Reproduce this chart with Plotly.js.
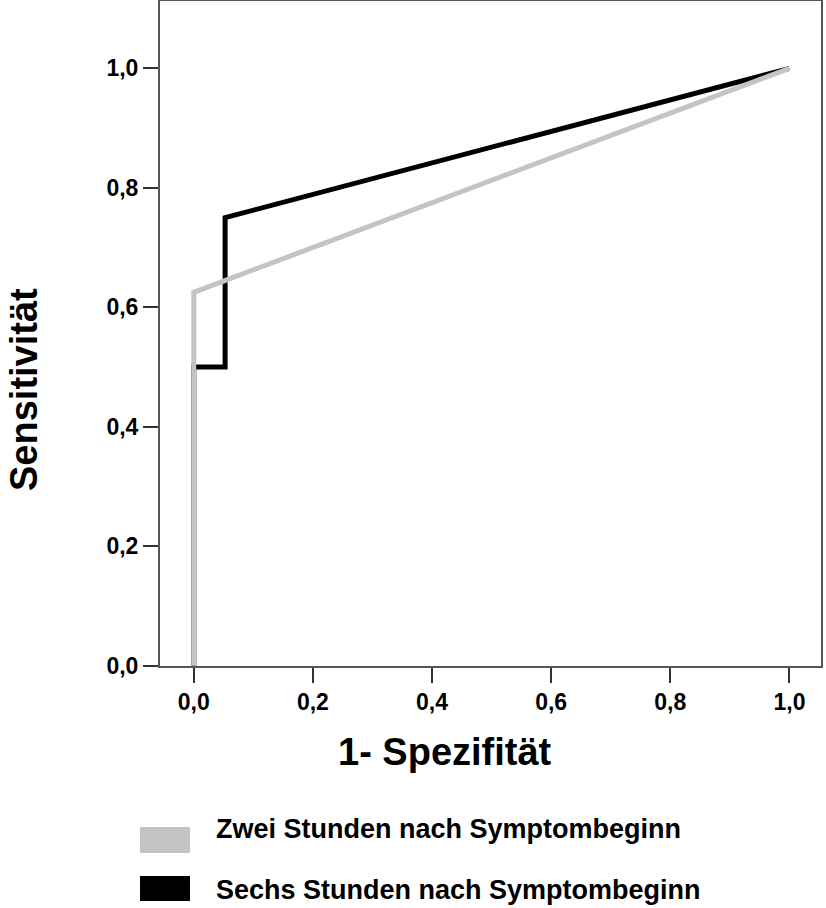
<!DOCTYPE html>
<html>
<head>
<meta charset="utf-8">
<script src="https://cdn.plot.ly/plotly-3.0.1.min.js"></script>
<style>html,body{margin:0;padding:0;background:#fff;}#chart{width:826px;height:908px;}</style>
</head>
<body>
<div id="chart"></div>
<script>
// ROC data
const seriesNames = ["Zwei Stunden nach Symptombeginn", "Sechs Stunden nach Symptombeginn"];
const seriesColors = ["#c4c4c4", "#000000"];
const zweiX = [0, 0, 1];
const zweiY = [0, 0.625, 1];
const sechsX = [0, 0, 0.0526, 0.0526, 1];
const sechsY = [0, 0.5, 0.5, 0.75, 1];
const tickVals = [0, 0.2, 0.4, 0.6, 0.8, 1.0];
const tickLabels = ["0,0", "0,2", "0,4", "0,6", "0,8", "1,0"];
const xTitle = "1- Spezifität";
const yTitle = "Sensitivität";

const W = 826, H = 908;
const px = v => v / W;
const py = v => 1 - v / H;
const FONT = "Liberation Sans, Arial, sans-serif";

const traces = [
  {x: sechsX, y: sechsY, mode: "lines", name: seriesNames[1],
   line: {color: seriesColors[1], width: 5, shape: "linear"}, showlegend: false, hoverinfo: "skip"},
  {x: zweiX, y: zweiY, mode: "lines", name: seriesNames[0],
   line: {color: seriesColors[0], width: 5, shape: "linear"}, showlegend: false, hoverinfo: "skip"}
];

const legendBoxes = [[827, 853], [876, 901]];
const legendTextY = [829, 890];
const shapes = [];
const annotations = [];
seriesNames.forEach((n, i) => {
  shapes.push({type: "rect", xref: "paper", yref: "paper",
    x0: px(140), x1: px(190), y0: py(legendBoxes[i][1]), y1: py(legendBoxes[i][0]),
    fillcolor: seriesColors[i], line: {width: 0}});
  annotations.push({text: "<b>" + n + "</b>", xref: "paper", yref: "paper",
    x: px(214), y: py(legendTextY[i]), xanchor: "left", yanchor: "middle",
    showarrow: false, font: {family: FONT, size: 27, color: "#000"}});
});
annotations.push({text: "<b>" + xTitle + "</b>", xref: "paper", yref: "paper",
  x: px(445), y: py(752), xanchor: "center", yanchor: "middle", showarrow: false,
  font: {family: FONT, size: 38, color: "#000"}});
annotations.push({text: "<b>" + yTitle + "</b>", xref: "paper", yref: "paper",
  x: px(24), y: py(390), xanchor: "center", yanchor: "middle", showarrow: false, textangle: -90,
  font: {family: FONT, size: 38, color: "#000"}});

const axisCommon = {
  tickmode: "array", tickvals: tickVals, ticktext: tickLabels,
  ticks: "outside", ticklen: 15, tickwidth: 2, tickcolor: "#333",
  showline: true, linecolor: "#555", linewidth: 2, mirror: true,
  showgrid: false, zeroline: false, fixedrange: true,
  tickfont: {family: FONT, size: 23, color: "#000", weight: "bold"}
};

const layout = {
  width: W, height: H,
  margin: {l: 0, r: 0, t: 0, b: 0},
  paper_bgcolor: "#fff", plot_bgcolor: "#fff",
  showlegend: false,
  xaxis: Object.assign({}, axisCommon, {domain: [160 / W, 821 / W], range: [-0.0567, 1.053], automargin: false}),
  yaxis: Object.assign({}, axisCommon, {domain: [1 - 665.7 / H, 1 - 1 / H], range: [0, 1.1127], automargin: false}),
  shapes: shapes,
  annotations: annotations
};

Plotly.newPlot("chart", traces, layout, {staticPlot: true, displayModeBar: false});
</script>
</body>
</html>
